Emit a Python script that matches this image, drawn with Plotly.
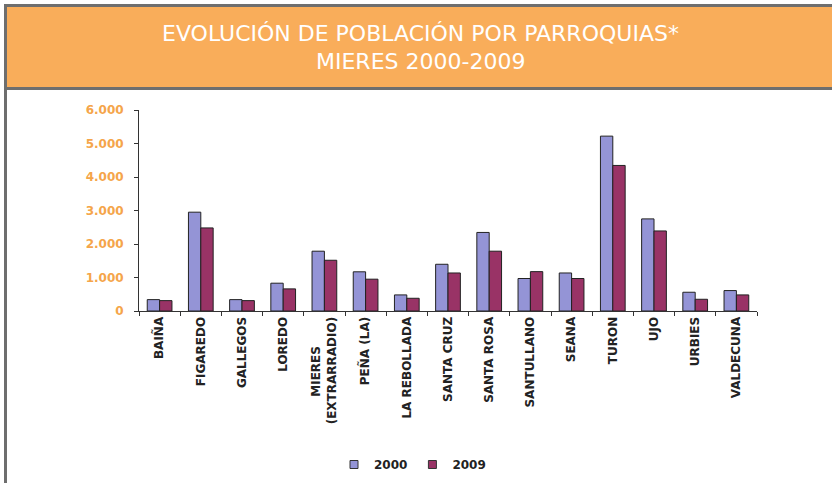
import plotly.graph_objects as go

categories = ["BAIÑA", "FIGAREDO", "GALLEGOS", "LOREDO",
              "MIERES" + "\u00a0" * 7 + "<br>(EXTRARRADIO)",
              "PEÑA (LA)", "LA REBOLLADA", "SANTA CRUZ", "SANTA ROSA", "SANTULLANO",
              "SEANA", "TURON", "UJO", "URBIES", "VALDECUNA"]
pop_2000 = [340, 2950, 340, 830, 1785, 1170, 480, 1395, 2345, 970, 1135, 5220, 2750, 560, 610]
pop_2009 = [310, 2480, 310, 660, 1515, 950, 380, 1135, 1785, 1175, 970, 4345, 2390, 350, 480]
series_names = ["2000", "2009"]
y_ticks = [0, 1000, 2000, 3000, 4000, 5000, 6000]

W, H = 832, 483
ML, MR, MT, MB = 139, 75, 110, 172
PW, PH = W - ML - MR, H - MT - MB

def px_x(p):
    return (p - ML) / PW

def px_y(p):
    return (H - MB - p) / PH

c2000 = "#9494D6"
c2009 = "#993366"
gray = "#6e6e6e"
orange = "#F9AD5A"

fig = go.Figure()
fig.add_trace(go.Bar(x=categories, y=pop_2000, name=series_names[0], marker=dict(color=c2000, line=dict(color="#222", width=1)), showlegend=False))
fig.add_trace(go.Bar(x=categories, y=pop_2009, name=series_names[1], marker=dict(color=c2009, line=dict(color="#222", width=1)), showlegend=False))
for nm, col in zip(series_names, [c2000, c2009]):
    fig.add_trace(go.Scatter(x=[None], y=[None], mode="markers", name=nm,
                             marker=dict(symbol="square", size=8, color=col, line=dict(color="#333", width=1))))

shapes = [
    dict(type="rect", xref="paper", yref="paper", x0=px_x(6), x1=px_x(840), y0=px_y(5), y1=px_y(88),
         fillcolor=orange, line=dict(width=0), layer="below"),
    dict(type="line", xref="paper", yref="paper", x0=px_x(4), x1=px_x(840), y0=px_y(5.5), y1=px_y(5.5),
         line=dict(color=gray, width=3)),
    dict(type="line", xref="paper", yref="paper", x0=px_x(4), x1=px_x(840), y0=px_y(88.5), y1=px_y(88.5),
         line=dict(color=gray, width=3)),
    dict(type="line", xref="paper", yref="paper", x0=px_x(5.5), x1=px_x(5.5), y0=px_y(4), y1=px_y(490),
         line=dict(color=gray, width=3)),
]

annotations = [
    dict(text="EVOLUCIÓN DE POBLACIÓN POR PARROQUIAS*", x=px_x(420), y=px_y(33), xref="paper", yref="paper",
         showarrow=False, font=dict(family="DejaVu Sans", size=22, color="white"), xanchor="center", yanchor="middle"),
    dict(text="MIERES 2000-2009", x=px_x(420), y=px_y(62), xref="paper", yref="paper",
         showarrow=False, font=dict(family="DejaVu Sans", size=22, color="white"), xanchor="center", yanchor="middle"),
]

fig.update_layout(
    width=W, height=H,
    margin=dict(l=ML, r=MR, t=MT, b=MB, pad=0, autoexpand=False),
    paper_bgcolor="white", plot_bgcolor="white",
    separators=",.",
    barmode="group", bargap=0.4, bargroupgap=0,
    shapes=shapes, annotations=annotations,
    legend=dict(orientation="h", x=px_x(334), y=px_y(450), xanchor="left", yanchor="top",
                font=dict(family="DejaVu Sans", size=12, color="#222", weight="bold"), itemwidth=30,
                bgcolor="rgba(0,0,0,0)", tracegroupgap=0),
    xaxis=dict(showline=True, linecolor="#333", linewidth=1, ticks="outside", ticklen=4,
               tickcolor="#333", tickson="boundaries", tickangle=-90, automargin=False,
               tickfont=dict(family="DejaVu Sans", size=12, color="#222", weight="bold"),
               showgrid=False, fixedrange=True),
    yaxis=dict(range=[0, 6000], tickvals=y_ticks, tickformat=",d", showline=True, linecolor="#333",
               linewidth=1, ticks="outside", ticklen=4, tickcolor="#333", showgrid=False, zeroline=False,
               automargin=False, fixedrange=True,
               tickfont=dict(family="DejaVu Sans", size=12, color="#F5A54A", weight="bold"), ticklabelstandoff=8),
)

fig.write_html("out.html", config={"displayModeBar": False},
               post_script="document.body.style.margin='0';document.body.style.overflow='hidden';")
